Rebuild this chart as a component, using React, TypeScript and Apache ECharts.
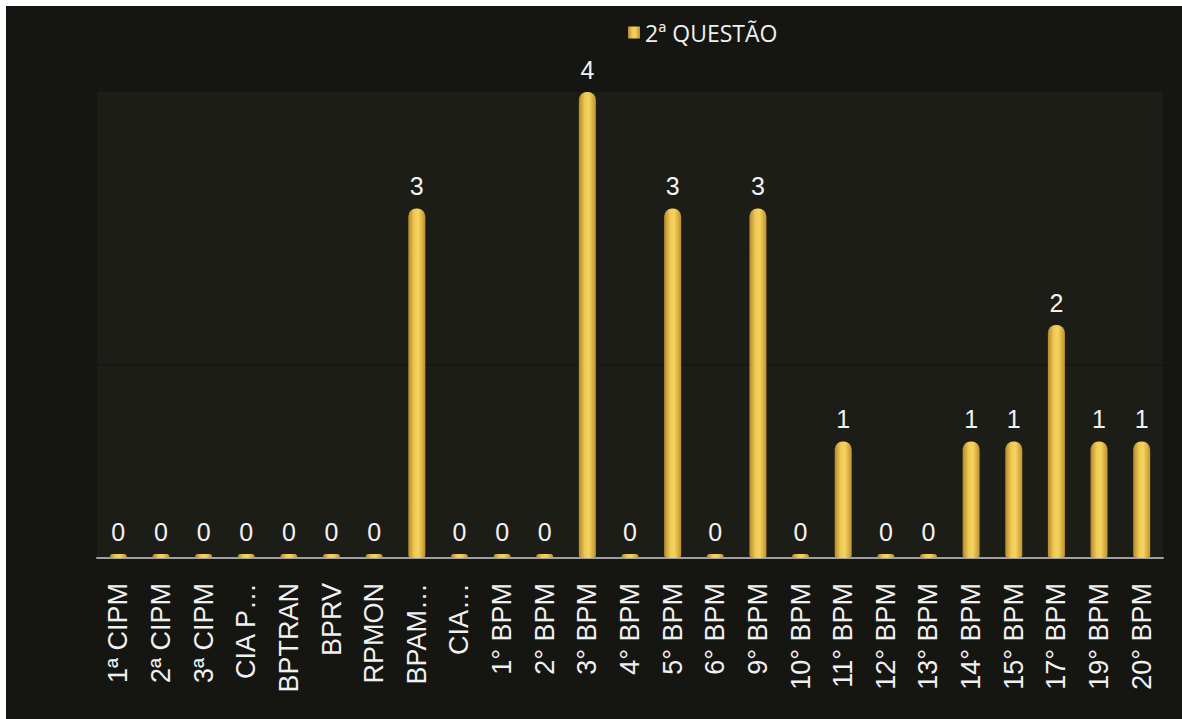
import React, { useEffect, useRef } from "react";
import * as echarts from "echarts";

const categories = [
  "1ª CIPM", "2ª CIPM", "3ª CIPM", "CIA P…", "BPTRAN", "BPRV", "RPMON", "BPAM…", "CIA…",
  "1° BPM", "2° BPM", "3° BPM", "4° BPM", "5° BPM", "6° BPM", "9° BPM", "10° BPM",
  "11° BPM", "12° BPM", "13° BPM", "14° BPM", "15° BPM", "17° BPM", "19° BPM", "20° BPM",
];
const seriesName = "2ª QUESTÃO";
const values = [0, 0, 0, 0, 0, 0, 0, 3, 0, 0, 0, 4, 0, 3, 0, 3, 0, 1, 0, 0, 1, 1, 2, 1, 1];

export default function App() {
  const ref = useRef<HTMLDivElement>(null);
  useEffect(() => {
    if (!ref.current) return;
    const chart = echarts.init(ref.current, null, { renderer: "svg" });
    const gold = new echarts.graphic.LinearGradient(0, 0, 1, 0, [
      { offset: 0, color: "#b3882a" },
      { offset: 0.35, color: "#f0c955" },
      { offset: 0.6, color: "#f4d35f" },
      { offset: 1, color: "#bf922e" },
    ]);
    chart.setOption({
      animation: false,
      backgroundColor: "#151512",
      legend: {
        left: 617,
        top: 10,
        itemWidth: 12,
        itemHeight: 12,
        itemGap: 8,
        icon: "rect",
        textStyle: { color: "#f0f0f0", fontSize: 23, fontFamily: "Open Sans" },
        data: [seriesName],
      },
      grid: {
        left: 91,
        right: 19,
        top: 86,
        bottom: 161,
        show: true,
        backgroundColor: "#1d1d18",
        borderWidth: 0,
      },
      xAxis: {
        type: "category",
        data: categories,
        axisLine: { lineStyle: { color: "#a0a0a0", width: 2 } },
        axisTick: { show: false },
        axisLabel: {
          rotate: 90,
          interval: 0,
          margin: 25,
          color: "#f0f0f0",
          fontSize: 27,
          fontFamily: "Liberation Sans",
        },
      },
      yAxis: {
        type: "value",
        min: 0,
        max: 4,
        interval: 1,
        show: false,
        splitLine: { show: false },
      },
      graphic: [
        {
          type: "line",
          shape: { x1: 91, y1: 359, x2: 1163, y2: 359 },
          style: { stroke: "#121210", lineWidth: 1 },
          silent: true,
          z: 1,
        },
      ],
      series: [
        {
          name: seriesName,
          type: "bar",
          data: values,
          barWidth: 17,
          barMinHeight: 4,
          itemStyle: { color: gold, borderRadius: [8, 8, 3, 3] },
          label: {
            show: true,
            position: "top",
            distance: 10,
            color: "#f2f2f2",
            fontSize: 25,
            fontFamily: "Liberation Sans",
          },
          z: 3,
        },
      ],
    });
    return () => chart.dispose();
  }, []);
  return (
    <div style={{ position: "absolute", left: 0, top: 0, width: 1182, height: 719, background: "#ffffff" }}>
      <div ref={ref} style={{ position: "absolute", left: 6, top: 6, width: 1176, height: 713 }} />
    </div>
  );
}
